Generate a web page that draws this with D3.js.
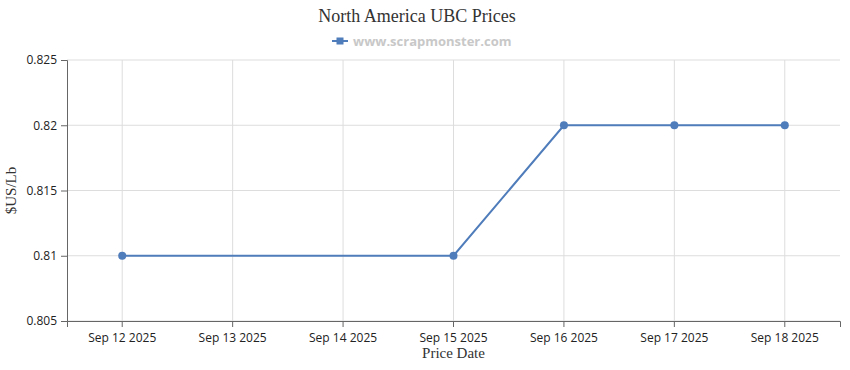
<!DOCTYPE html>
<html>
<head>
<meta charset="utf-8">
<script src="https://cdn.jsdelivr.net/npm/d3@7"></script>
<style>
  body { margin: 0; background: #fff; }
  .axis text { font-family: "Open Sans", sans-serif; font-size: 12px; fill: #222; }
  .axis path, .axis line { stroke: #666; }
</style>
</head>
<body>
<script>
const dates = ['Sep 12 2025', 'Sep 13 2025', 'Sep 14 2025', 'Sep 15 2025', 'Sep 16 2025', 'Sep 17 2025', 'Sep 18 2025'];
const prices = [0.81, null, null, 0.81, 0.82, 0.82, 0.82];
const yTicks = [0.805, 0.81, 0.815, 0.82, 0.825];

const svgWidth = 850;
const svgHeight = 370;
const margin = { top: 60, right: 10, bottom: 49, left: 67 };
const width = svgWidth - margin.left - margin.right;
const height = svgHeight - margin.top - margin.bottom;
const color = '#4f7cba';

const root = d3.select('body').append('svg')
  .attr('width', svgWidth)
  .attr('height', svgHeight);

const svg = root.append('g')
  .attr('transform', `translate(${margin.left}, ${margin.top})`);

const x = d3.scaleBand()
  .domain(dates)
  .range([0, width]);

const y = d3.scaleLinear()
  .domain([0.805, 0.825])
  .range([height, 0]);

const cx = d => x(d) + x.bandwidth() / 2;

// grid lines
svg.append('g').selectAll('line')
  .data(yTicks)
  .enter().append('line')
  .attr('x1', 0).attr('x2', width)
  .attr('y1', d => y(d)).attr('y2', d => y(d))
  .attr('stroke', '#ddd');

svg.append('g').selectAll('line')
  .data(dates)
  .enter().append('line')
  .attr('x1', d => cx(d)).attr('x2', d => cx(d))
  .attr('y1', 0).attr('y2', height)
  .attr('stroke', '#ddd');

// axes
svg.append('g')
  .attr('class', 'axis')
  .attr('transform', `translate(0, ${height})`)
  .call(d3.axisBottom(x).tickSizeOuter(0).tickSize(6).tickPadding(6));

svg.append('g')
  .attr('class', 'axis')
  .call(d3.axisLeft(y).tickValues(yTicks).tickFormat(d => +d.toFixed(3)).tickSizeOuter(0).tickSize(6).tickPadding(4));

// line + points
const points = dates.map((d, i) => ({ date: d, value: prices[i] })).filter(p => p.value != null);

svg.append('path')
  .datum(points)
  .attr('fill', 'none')
  .attr('stroke', color)
  .attr('stroke-width', 2)
  .attr('d', d3.line().x(p => cx(p.date)).y(p => y(p.value)));

svg.selectAll('.dot')
  .data(points)
  .enter().append('circle')
  .attr('class', 'dot')
  .attr('cx', p => cx(p.date))
  .attr('cy', p => y(p.value))
  .attr('r', 4)
  .attr('fill', color);

// title
root.append('text')
  .attr('x', 417)
  .attr('y', 22)
  .attr('text-anchor', 'middle')
  .style('font-family', '"Liberation Serif", serif')
  .style('font-size', '18px')
  .style('fill', '#333')
  .text('North America UBC Prices');

// legend
const legend = root.append('g').attr('transform', 'translate(332, 41)');
legend.append('line')
  .attr('x1', 0).attr('x2', 16)
  .attr('stroke', color).attr('stroke-width', 2);
legend.append('rect')
  .attr('x', 4.5).attr('y', -3.5).attr('width', 7).attr('height', 7)
  .attr('fill', color);
legend.append('text')
  .attr('x', 21)
  .attr('y', 4.5)
  .style('font-family', '"Open Sans", sans-serif')
  .style('font-size', '13px')
  .style('font-weight', 'bold')
  .style('fill', '#c8c8c8')
  .text('www.scrapmonster.com');

// axis labels
root.append('text')
  .attr('x', margin.left + width / 2)
  .attr('y', 358)
  .attr('text-anchor', 'middle')
  .style('font-family', '"Liberation Serif", serif')
  .style('font-size', '15px')
  .style('fill', '#333')
  .text('Price Date');

root.append('text')
  .attr('transform', `translate(16, ${margin.top + height / 2}) rotate(-90)`)
  .attr('text-anchor', 'middle')
  .style('font-family', '"Liberation Serif", serif')
  .style('font-size', '15px')
  .style('fill', '#333')
  .text('$US/Lb');
</script>
</body>
</html>
